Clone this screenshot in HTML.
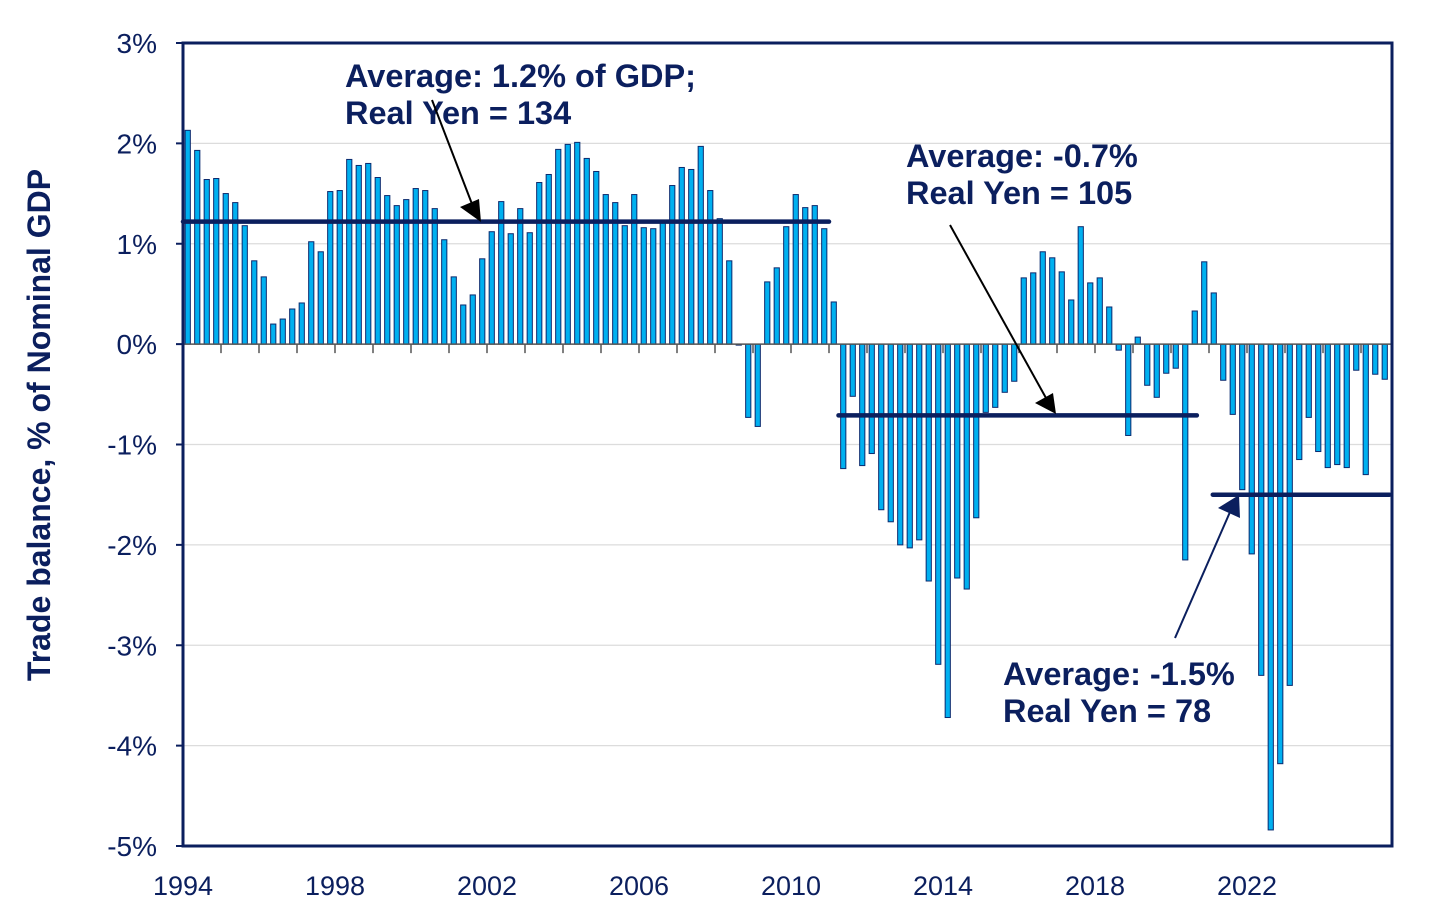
<!DOCTYPE html>
<html><head><meta charset="utf-8"><style>
body{margin:0;background:#fff;}
svg{display:block;font-family:"Liberation Sans",Arial,sans-serif;}
</style></head><body>
<svg id="chart" width="1456" height="913" viewBox="0 0 1456 913" xmlns="http://www.w3.org/2000/svg">
<g id="grid"></g>
<g id="bars"></g>
<g id="axes"></g>
<g id="avgs"></g>
<g font-weight="bold" font-size="32.5" fill="#0b1f5e">
<text x="345" y="87">Average: 1.2% of GDP;</text>
<text x="345" y="124">Real Yen = 134</text>
<text x="906" y="167">Average: -0.7%</text>
<text x="906" y="204">Real Yen = 105</text>
<text x="1003" y="685">Average: -1.5%</text>
<text x="1003" y="722">Real Yen = 78</text>
</g>
<g>
<line x1="432" y1="100" x2="472" y2="204" stroke="#000" stroke-width="2"/>
<polygon points="481,222 460,207 479,199" fill="#000"/>
<line x1="950" y1="225" x2="1046" y2="398" stroke="#000" stroke-width="2"/>
<polygon points="1056,414 1035,403 1053,393" fill="#000"/>
<line x1="1175" y1="638" x2="1230" y2="512" stroke="#0b1f5e" stroke-width="2"/>
<polygon points="1239,495 1240,518 1218,508" fill="#0b1f5e"/>
</g>
<text transform="translate(50,425) rotate(-90)" text-anchor="middle" font-weight="bold" font-size="32" fill="#0b1f5e">Trade balance, % of Nominal GDP</text>
</svg>
<script>
const values = [2.13,1.93,1.64,1.65, 1.50,1.41,1.18,0.83, 0.67,0.20,0.25,0.35, 0.41,1.02,0.92,1.52, 1.53,1.84,1.78,1.80, 1.66,1.48,1.38,1.44, 1.55,1.53,1.35,1.04, 0.67,0.39,0.49,0.85, 1.12,1.42,1.10,1.35, 1.11,1.61,1.69,1.94, 1.99,2.01,1.85,1.72, 1.49,1.41,1.18,1.49, 1.16,1.15,1.23,1.58, 1.76,1.74,1.97,1.53, 1.25,0.83,-0.01,-0.73, -0.82,0.62,0.76,1.17, 1.49,1.36,1.38,1.15, 0.42,-1.24,-0.52,-1.21, -1.09,-1.65,-1.77,-2.00, -2.03,-1.95,-2.36,-3.19, -3.72,-2.33,-2.44,-1.73, -0.68,-0.63,-0.48,-0.37, 0.66,0.71,0.92,0.86, 0.72,0.44,1.17,0.61, 0.66,0.37,-0.06,-0.91, 0.07,-0.41,-0.53,-0.29, -0.24,-2.15,0.33,0.82, 0.51,-0.36,-0.70,-1.45, -2.09,-3.30,-4.84,-4.18, -3.40,-1.15,-0.73,-1.07, -1.23,-1.20,-1.23,-0.26, -1.30,-0.30,-0.35];
const startYear = 1994;
const yTicks = [3,2,1,0,-1,-2,-3,-4,-5];
const xTickLabels = [1994,1998,2002,2006,2010,2014,2018,2022];
const avgValues = [1.22,-0.71,-1.5];
const avgStart = [1994,2011.25,2021.1];
const avgEnd = [2011,2020.68,2025.75];

const NS="http://www.w3.org/2000/svg";
const L=183,R=1392,T=43,B=846;
const yMin=-5,yMax=3;
const Y=v=>B-(v-yMin)/(yMax-yMin)*(B-T);
const X=yr=>L+(yr-startYear)*38;
function mk(tag,attrs,parent){const e=document.createElementNS(NS,tag);for(const k in attrs)e.setAttribute(k,attrs[k]);parent.appendChild(e);return e;}
const grid=document.getElementById('grid'),bars=document.getElementById('bars'),axes=document.getElementById('axes'),avgs=document.getElementById('avgs');

yTicks.forEach(t=>{
  const g=mk('line',{x1:L,x2:R,y1:Y(t),y2:Y(t),stroke:'#dcdcdc','stroke-width':1.2},grid);
  
  
  const tk=mk('line',{x1:L-7,x2:L,y1:Y(t),y2:Y(t),stroke:'#0b1f5e','stroke-width':2},axes);
  
  
  const lb=mk('text',{x:157,y:Y(t)+10,'text-anchor':'end','font-size':28,fill:'#0b1f5e'},axes);
  
  
  lb.textContent=t+'%';
});

values.forEach((v,i)=>{
  const cx=X(startYear+(i+0.5)/4);
  const y0=Y(0),y1=Y(v);
  const r=mk('rect',{x:cx-2.6,y:Math.min(y0,y1),width:5.2,height:Math.max(0.8,Math.abs(y1-y0)),fill:'#00b0f0',stroke:'#0b2a6e','stroke-width':1},bars);
  
  
});

const z=mk('line',{x1:L,x2:R,y1:Y(0),y2:Y(0),stroke:'#555','stroke-width':1.5},axes);


for(let yr=startYear+1;yr<=2025;yr++){
  const t=mk('line',{x1:X(yr),x2:X(yr),y1:Y(0),y2:Y(0)+9,stroke:'#555','stroke-width':1.5},axes);
  
  
}
xTickLabels.forEach(yr=>{
  const lb=mk('text',{x:X(yr),y:895,'text-anchor':'middle','font-size':27,fill:'#0b1f5e'},axes);
  
  
  lb.textContent=yr;
});
const fr=mk('rect',{x:L,y:T,width:R-L,height:B-T,fill:'none',stroke:'#0b1f5e','stroke-width':3},axes);



avgValues.forEach((v,i)=>{
  const l=mk('line',{x1:X(avgStart[i]),x2:X(avgEnd[i]),y1:Y(v),y2:Y(v),stroke:'#0b1f5e','stroke-width':4.5,'stroke-linecap':'round'},avgs);
  
  
});
</script>
</body></html>
